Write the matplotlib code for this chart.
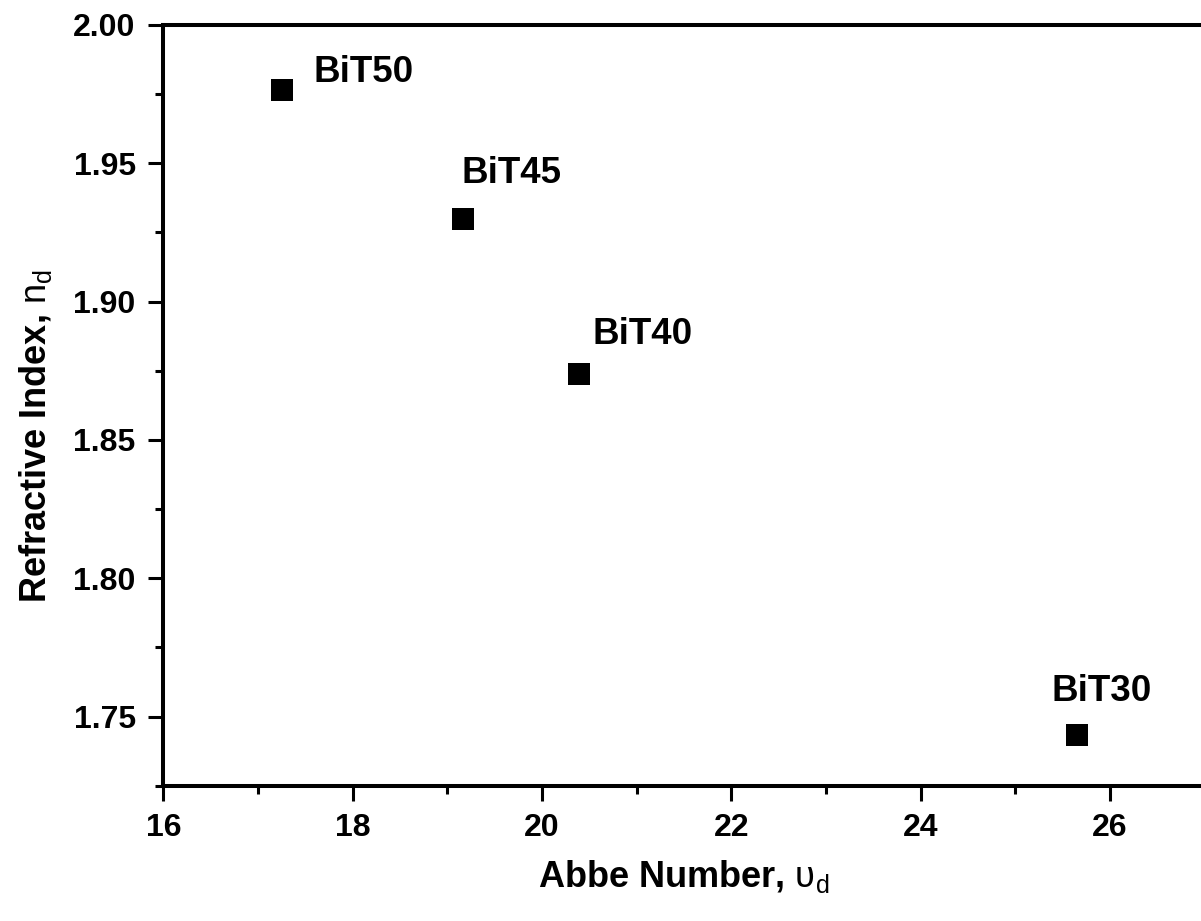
import matplotlib
matplotlib.use("Agg")
import matplotlib.pyplot as plt
from matplotlib.ticker import MultipleLocator, FormatStrFormatter

plt.rcParams['font.family'] = ['Liberation Sans', 'DejaVu Sans']
plt.rcParams['font.weight'] = 'bold'
plt.rcParams['mathtext.fontset'] = 'custom'
plt.rcParams['mathtext.rm'] = 'Liberation Sans:weight=normal'
plt.rcParams['mathtext.it'] = 'Liberation Sans:italic:weight=normal'
plt.rcParams['mathtext.bf'] = 'Liberation Sans:bold'

# Data
samples = ['BiT50', 'BiT45', 'BiT40', 'BiT30']
abbe_number = [17.25, 19.17, 20.39, 25.65]
refractive_index = [1.9765, 1.9297, 1.8740, 1.7434]
# label offsets (points) relative to each marker
label_dx = [23, -1.7, 9.9, -18]
label_dy = [5.8, 26, 21, 24.5]

fig = plt.figure(figsize=(12.01, 9.21), dpi=100)
ax = fig.add_axes([0.1361, 0.1469, 1.0030 - 0.1361, 0.9729 - 0.1469])

ax.plot(abbe_number, refractive_index, linestyle='none', marker='s',
        markersize=16.3, markeredgewidth=0, color='black')

for name, x, y, dx, dy in zip(samples, abbe_number, refractive_index, label_dx, label_dy):
    ax.annotate(name, (x, y), xytext=(dx, dy), textcoords='offset points',
                ha='left', va='baseline', fontsize=26.5, fontweight='bold')

ax.set_xlim(16, 27)
ax.set_ylim(1.725, 2.00)
ax.xaxis.set_major_locator(MultipleLocator(2))
ax.xaxis.set_minor_locator(MultipleLocator(1))
ax.yaxis.set_major_locator(MultipleLocator(0.05))
ax.yaxis.set_minor_locator(MultipleLocator(0.025))
ax.yaxis.set_major_formatter(FormatStrFormatter('%.2f'))

for s in ax.spines.values():
    s.set_linewidth(2.9)
ax.tick_params(which='major', direction='out', length=11, width=2.2, pad=9,
               labelsize=23, top=False, right=False)
ax.tick_params(which='minor', direction='out', length=6, width=2.2,
               top=False, right=False)
for lab in ax.get_xticklabels() + ax.get_yticklabels():
    lab.set_fontweight('bold')

ax.set_xlabel(r'Abbe Number, $\mathrm{υ_d}$', fontsize=26, fontweight='bold')
ax.set_ylabel(r'Refractive Index, $\mathrm{n_d}$', fontsize=26, fontweight='bold')
ax.xaxis.set_label_coords(0.5, -0.095)
ax.yaxis.set_label_coords(-0.105, 0.46)

fig.savefig('out.png', dpi=100)
